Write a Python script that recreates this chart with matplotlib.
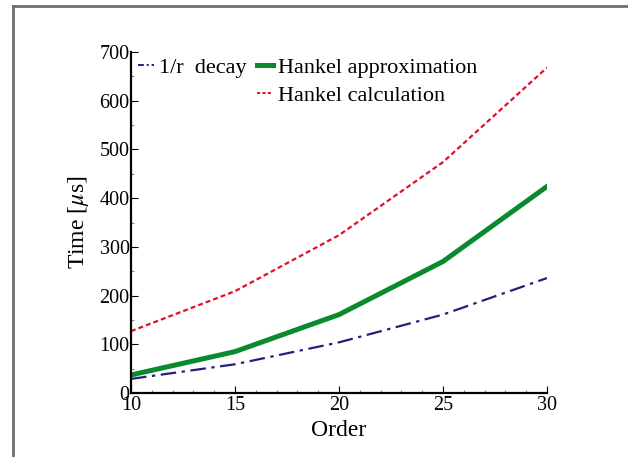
import matplotlib.pyplot as plt
from matplotlib.lines import Line2D
from matplotlib.ticker import MultipleLocator

plt.rcParams['font.family'] = 'Liberation Serif'
plt.rcParams['mathtext.fontset'] = 'stix'

# timing per expansion order
order = [10, 15, 20, 25, 30]
decay_1r = [29, 59, 104, 161, 236]
hankel_approx = [37, 85, 161, 270, 424]
hankel_calc = [127, 209, 324, 474, 668]

fig = plt.figure(figsize=(6.28, 4.57), dpi=100)
ax = fig.add_axes([0.2086, 0.140, 0.6624, 0.7462])

# grey frame around the whole figure (left and top edges only visible)
fig.add_artist(Line2D([0.0207, 0.0207], [0, 0.987], transform=fig.transFigure,
                      color='#707070', lw=2))
fig.add_artist(Line2D([0.0207, 1.0], [0.986, 0.986], transform=fig.transFigure,
                      color='#707070', lw=2))

blue, green, red = '#22207a', '#0a8a2e', '#e0102a'
l1, = ax.plot(order, decay_1r, color=blue, lw=1.6, dashes=(7, 2.5, 1.5, 2.5))
l2, = ax.plot(order, hankel_approx, color=green, lw=3.6)
l3, = ax.plot(order, hankel_calc, color=red, lw=1.6, dashes=(2.2, 1.4))

# shorter dash patterns so the pattern shows in the small legend handles
h1 = Line2D([], [], color=blue, lw=1.4, dashes=(3, 1.5, 1, 1.5))
h2 = Line2D([], [], color=green, lw=3.6)
h3 = Line2D([], [], color=red, lw=1.4, dashes=(1.6, 1.2))
blank = Line2D([], [], color='none')

ax.set_xlim(10, 30)
ax.set_ylim(0, 700)
ax.xaxis.set_major_locator(MultipleLocator(5))
ax.xaxis.set_minor_locator(MultipleLocator(1))
ax.yaxis.set_major_locator(MultipleLocator(100))
ax.yaxis.set_minor_locator(MultipleLocator(50))
ax.tick_params(which='both', direction='in', labelsize=14.5, width=0.8)
ax.tick_params(which='major', length=5)
ax.tick_params(which='minor', length=2.5, color='#888888')
ax.tick_params(axis='x', pad=2)
ax.tick_params(axis='y', pad=1)
for s in ['top', 'right']:
    ax.spines[s].set_visible(False)
for s in ['left', 'bottom']:
    ax.spines[s].set_linewidth(1.6)

ax.set_xlabel('Order', fontsize=17, labelpad=4)
ax.set_ylabel('Time [$\\mu$s]', fontsize=17, labelpad=6)

ax.legend([h1, blank, h2, h3], ['1/r  decay', '', 'Hankel approximation', 'Hankel calculation'],
          ncol=2, loc='upper left', bbox_to_anchor=(-0.02, 1.03), frameon=False,
          fontsize=16, handlelength=0.7, handletextpad=0.25, columnspacing=0.45,
          labelspacing=0.33, borderpad=0.2)

fig.savefig('out.png', dpi=100)
